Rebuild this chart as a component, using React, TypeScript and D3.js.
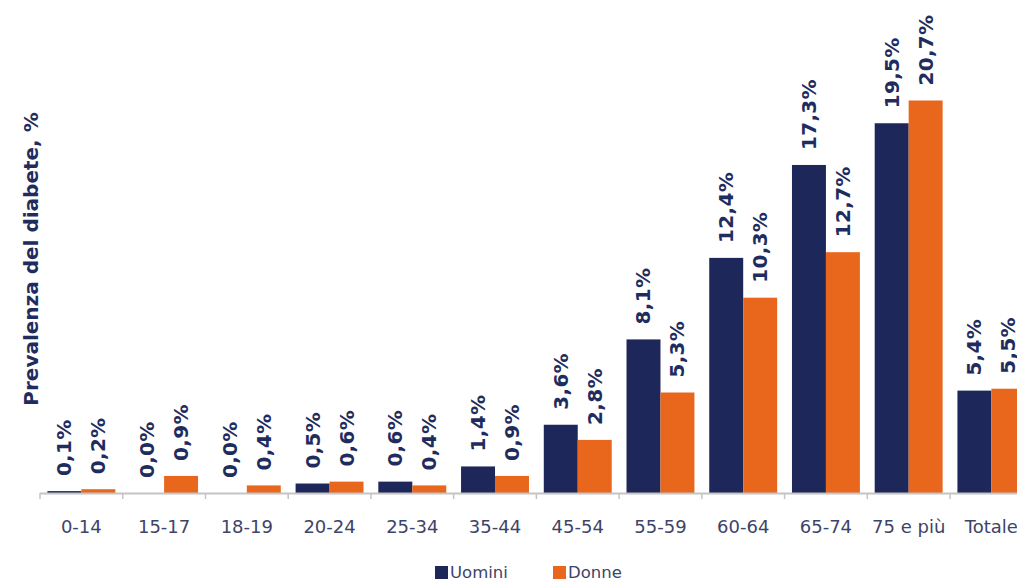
import React from "react";
import * as d3 from "d3";

const categories = ["0-14", "15-17", "18-19", "20-24", "25-34", "35-44", "45-54", "55-59", "60-64", "65-74", "75 e più", "Totale"];
const uomini = [0.1, 0.0, 0.0, 0.5, 0.6, 1.4, 3.6, 8.1, 12.4, 17.3, 19.5, 5.4];
const donne = [0.2, 0.9, 0.4, 0.6, 0.4, 0.9, 2.8, 5.3, 10.3, 12.7, 20.7, 5.5];
const seriesNames = ["Uomini", "Donne"];

const W = 1017;
const H = 581;
const NAVY = "#1d2759";
const ORANGE = "#e8671c";
const LABEL = "#1f2d5e";
const TICK = "#3d4468";

export default function App() {
  const step = 82.73;
  const x0 = 40;
  const x = d3
    .scaleBand<string>()
    .domain(categories)
    .range([x0, x0 + step * categories.length])
    .paddingInner(0)
    .paddingOuter(0);
  const inner = d3.scaleBand<string>().domain(seriesNames).range([7.4, step - 7.4]);
  const y = d3.scaleLinear().domain([0, 26]).range([493, 0]);
  const fmt = (v: number) => v.toFixed(1).replace(".", ",") + "%";
  const series = [uomini, donne];
  const colors = [NAVY, ORANGE];

  return (
    <svg width={W} height={H} style={{ position: "absolute", left: 0, top: 0, background: "#fff" }} fontFamily="'DejaVu Sans', Verdana, sans-serif">
      <text
        transform={`translate(38,259) rotate(-90)`}
        textAnchor="middle"
        fontWeight="bold"
        fontSize={20}
        fill={LABEL}
      >
        Prevalenza del diabete, %
      </text>
      {categories.map((c, i) =>
        series.map((s, k) => {
          const bx = (x(c) as number) + (inner(seriesNames[k]) as number);
          const bw = inner.bandwidth();
          const top = y(s[i]);
          return (
            <g key={c + k}>
              <rect x={bx} y={top} width={bw} height={y(0) - top} fill={colors[k]} />
              <text
                transform={`translate(${bx + bw / 2 + 7},${top - 15}) rotate(-90)`}
                fontWeight="bold"
                fontSize={20}
                letterSpacing={0.3}
                fill={LABEL}
              >
                {fmt(s[i])}
              </text>
            </g>
          );
        })
      )}
      <line x1={x0} x2={W} y1={y(0) + 0.5} y2={y(0) + 0.5} stroke="#c4c4c4" strokeWidth={2} />
      {d3.range(categories.length + 1).map((i) => (
        <line key={i} x1={x0 + i * step} x2={x0 + i * step} y1={y(0)} y2={y(0) + 6} stroke="#c4c4c4" strokeWidth={1.5} />
      ))}
      {categories.map((c) => (
        <text key={c} x={(x(c) as number) + step / 2} y={533} textAnchor="middle" fontSize={18} fill={TICK}>
          {c}
        </text>
      ))}
      <rect x={435} y={566} width={13} height={13} fill={NAVY} />
      <text x={450} y={578} fontSize={16.5} fill={TICK}>Uomini</text>
      <rect x={553} y={566} width={13} height={13} fill={ORANGE} />
      <text x={568} y={578} fontSize={16.5} fill={TICK}>Donne</text>
    </svg>
  );
}
